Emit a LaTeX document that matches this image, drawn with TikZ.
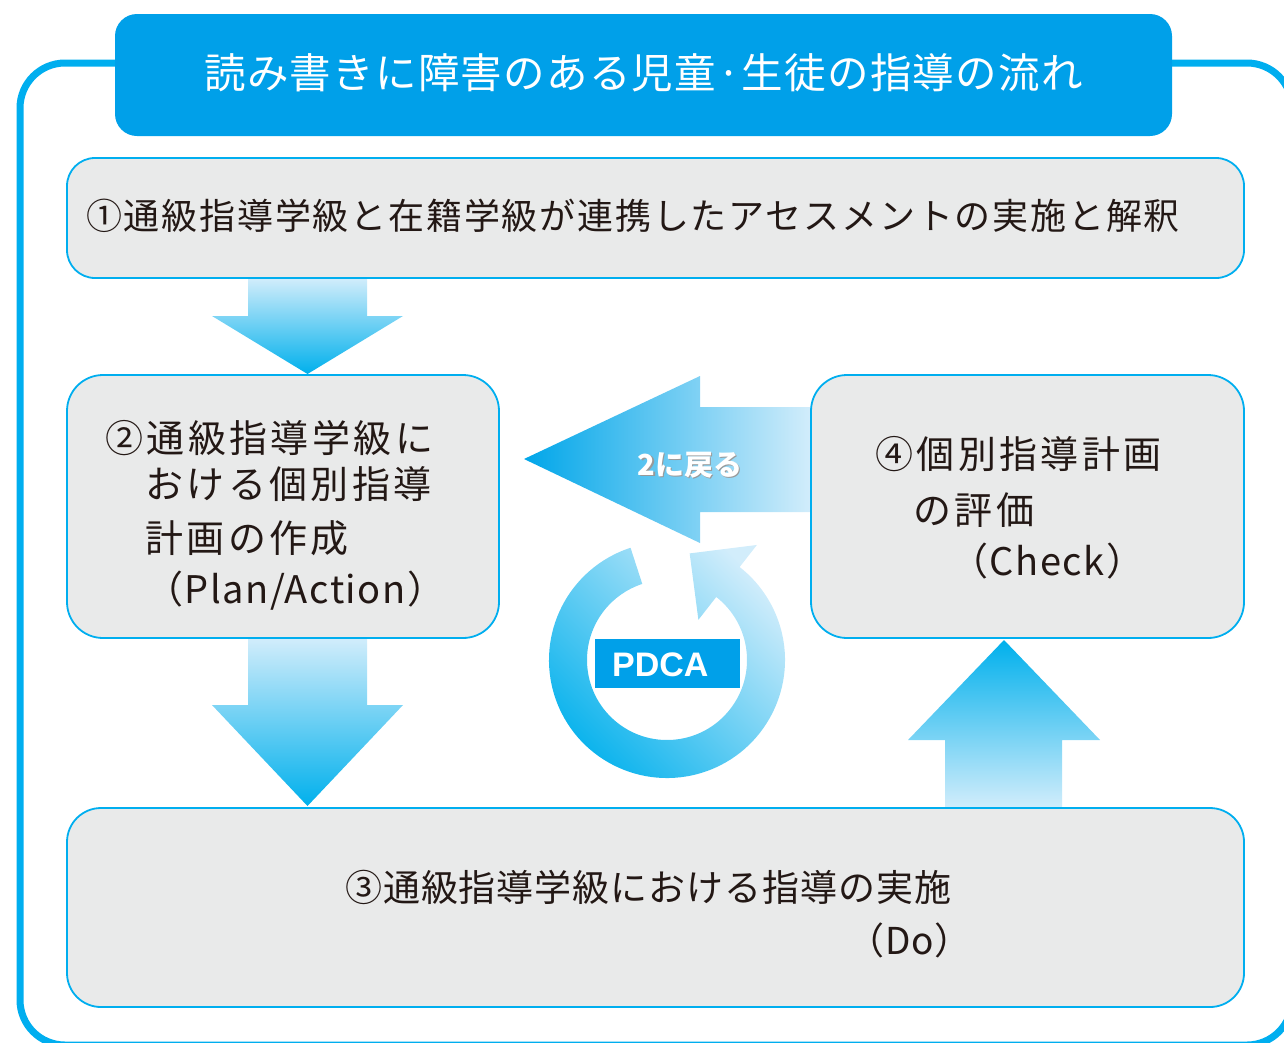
\documentclass[tikz,border=0pt]{standalone}
\usepackage{fontspec}
\setmainfont{Noto Sans CJK JP}
\newfontfamily\jpls[LetterSpace=9]{Noto Sans CJK JP}
\newfontfamily\jplsa[LetterSpace=4]{Noto Sans CJK JP}
\newfontfamily\jplsc[LetterSpace=5]{Noto Sans CJK JP}
\newfontfamily\jplsb[LetterSpace=2.5]{Noto Sans CJK JP}
\newfontfamily\jplst[LetterSpace=3]{Noto Sans CJK JP}
\newfontfamily\arialb{Liberation Sans}
\definecolor{cyanline}{HTML}{00AEEF}
\definecolor{titleblue}{HTML}{00A0E9}
\definecolor{boxgray}{HTML}{E9EAEA}
\definecolor{txt}{HTML}{231815}
\definecolor{gradlight}{HTML}{D2EDFB}
\definecolor{graddark}{HTML}{00B0EC}
\definecolor{gradtip}{HTML}{00A6E9}
\tikzset{
  box/.style={draw=cyanline, line width=1.8pt, fill=boxgray, inner sep=0pt},
  tsmall/.style={text=txt, anchor=west, inner sep=0pt, font=\jplsc\fontsize{36}{40}\selectfont},
  tmid/.style={text=txt, anchor=west, inner sep=0pt, font=\jplsb\fontsize{37}{41}\selectfont},
  tbig/.style={text=txt, anchor=west, inner sep=0pt, font=\jpls\fontsize{38}{42}\selectfont},
  tbigb/.style={text=txt, anchor=west, inner sep=0pt, font=\jplsa\fontsize{38}{42}\selectfont},
  downarrow/.style={top color=gradlight, bottom color=graddark},
  uparrow/.style={top color=graddark, bottom color=gradlight},
}
\begin{document}
\begin{tikzpicture}[x=1pt,y=-1pt]
\useasboundingbox (0,0) rectangle (1284,1042);
% outer frame
\begin{scope}
\clip (0,0) rectangle (1284,1042);
\draw[cyanline, line width=7pt, rounded corners=45pt] (20,63) rectangle (1292,1045);
\end{scope}
% title
\node[fill=titleblue, rounded corners=22pt, minimum width=1057pt, minimum height=122pt, inner sep=0pt] (title) at (643.5,75) {};
\node[text=white, inner sep=0pt, font=\jplst\fontsize{41.5}{45}\selectfont] (titletext) at (643.5,73) {読み書きに障害のある児童·生徒の指導の流れ};
% block arrows
\shade[downarrow] (248,278) -- (367,278) -- (367,316) -- (403,316) -- (307.5,374) -- (212,316) -- (248,316) -- cycle;
\shade[downarrow] (248,638) -- (367,638) -- (367,705) -- (403,705) -- (307.5,806) -- (212,705) -- (248,705) -- cycle;
\shade[uparrow] (945,808) -- (1062,808) -- (1062,740) -- (1100,740) -- (1004,640) -- (908,740) -- (945,740) -- cycle;
\shade[left color=gradtip, right color=gradlight] (524,459) -- (700,376) -- (700,407) -- (811,407) -- (811,512) -- (700,512) -- (700,543) -- cycle;
% boxes
\node[box, rounded corners=28pt, minimum width=1177pt, minimum height=120pt] (b1) at (655.5,218) {};
\node[box, rounded corners=36pt, minimum width=432pt, minimum height=263pt] (b2) at (283,506.5) {};
\node[box, rounded corners=36pt, minimum width=433pt, minimum height=263pt] (b4) at (1027.5,506.5) {};
\node[box, rounded corners=34pt, minimum width=1177pt, minimum height=199pt] (b3) at (655.5,907.5) {};
% texts
\node[tsmall] (t1) at (86,216) {①通級指導学級と在籍学級が連携したアセスメントの実施と解釈};
\node[tbig] (t2a) at (105,438) {②通級指導学級に};
\node[tbig] (t2b) at (145,484) {おける個別指導};
\node[tbig] (t2c) at (145,538) {計画の作成};
\node[tbigb] (t2d) at (145,591) {（Plan/Action）};
\node[tbig] (t4a) at (875,454) {④個別指導計画};
\node[tbig] (t4b) at (913,510) {の評価};
\node[tbigb] (t4c) at (950,561) {（Check）};
\node[tmid] (t3a) at (345,887) {③通級指導学級における指導の実施};
\node[tmid, anchor=east] (t3b) at (972,940) {（Do）};
% return label
\node[text=black!40, inner sep=0pt, font=\bfseries\fontsize{29}{32}\selectfont] (retsh) at (691.5,466.5) {2に戻る};
\node[text=white, inner sep=0pt, font=\bfseries\fontsize{29}{32}\selectfont] (ret) at (690,465) {2に戻る};
% PDCA ring
\begin{scope}[shift={(667,660)}, y=1pt]
\shade[top color=gradlight, bottom color=graddark, shading angle=-45]
  (108:118) arc[start angle=108, end angle=412, radius=118]
  -- (52:146) -- (78:109) -- (52:51) -- (52:80)
  arc[start angle=412, end angle=108, radius=80] -- cycle;
\end{scope}
\node[fill=titleblue, minimum width=145pt, minimum height=49pt, inner sep=0pt] (pdcabox) at (667.5,663.5) {};
\node[text=white, anchor=west, inner sep=0pt, font=\arialb\bfseries\fontsize{34}{38}\selectfont] (pdca) at (612,665) {PDCA};
\end{tikzpicture}
\end{document}
